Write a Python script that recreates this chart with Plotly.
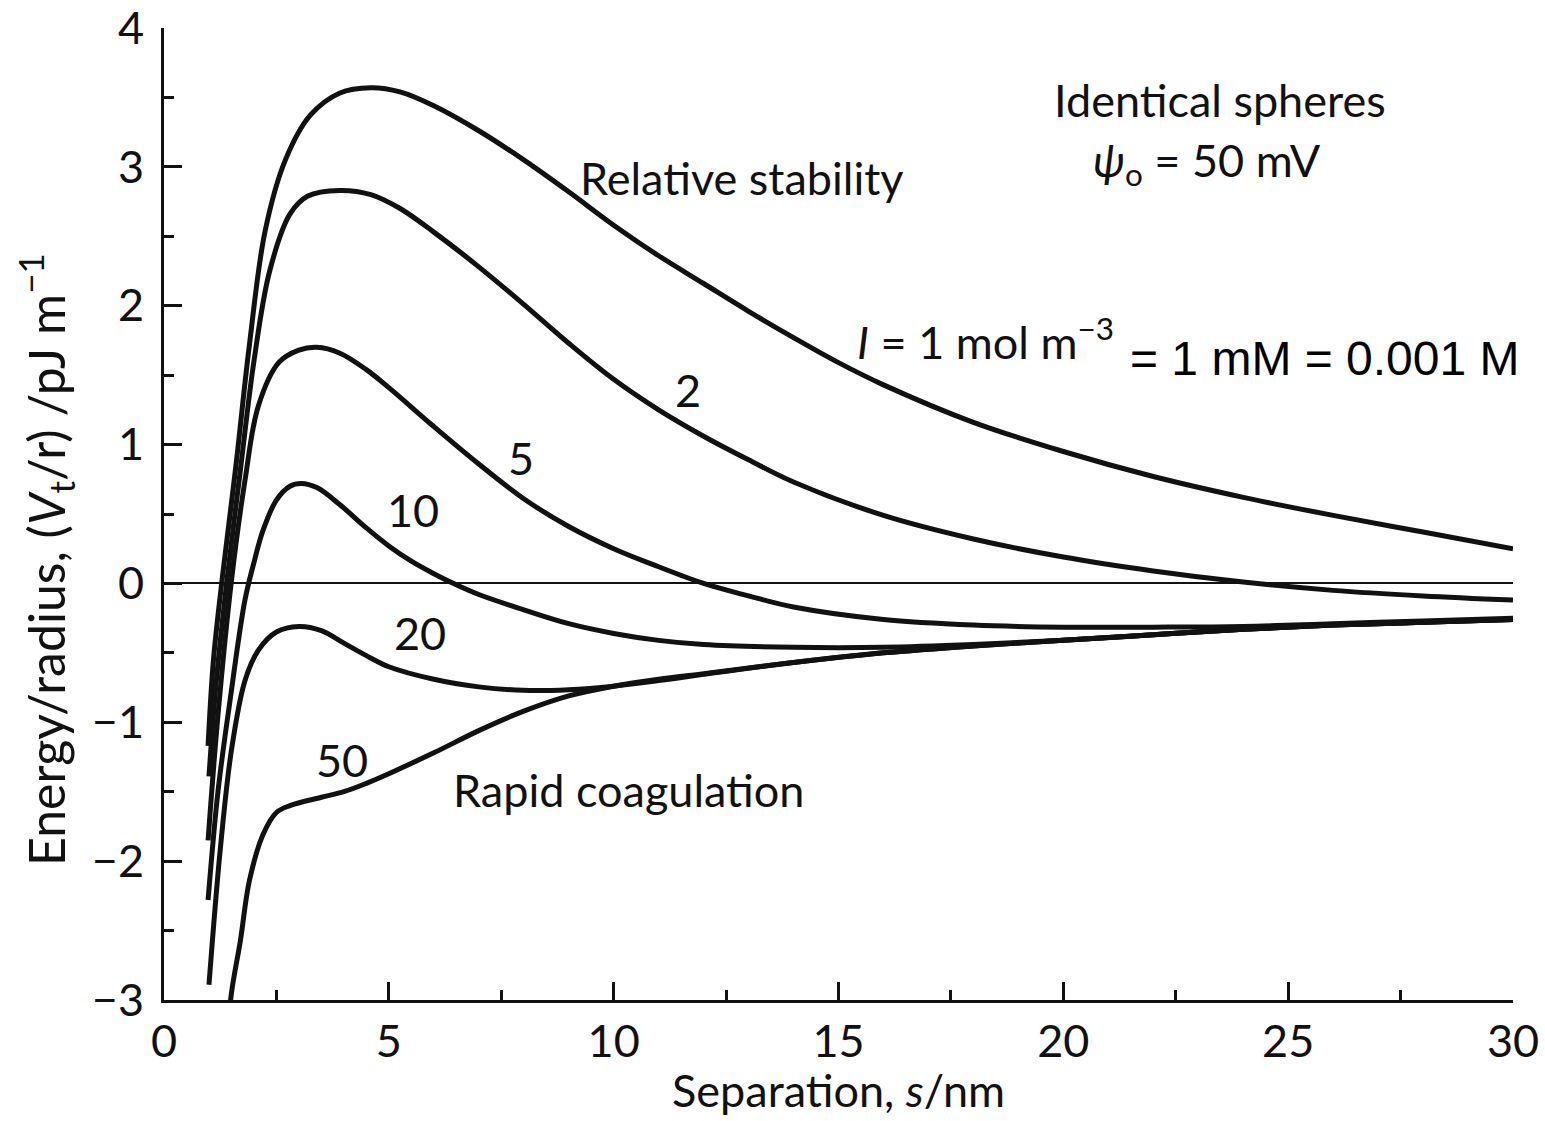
import plotly.graph_objects as go

# DLVO total interaction energy per radius for identical spheres (psi0 = 50 mV)
# at several ionic strengths I (mol m^-3).

s_I1 = [0.98, 1.1, 1.3, 1.6, 1.9, 2.25, 2.7, 3.25, 3.9, 4.6, 5.25, 6, 7, 8, 9, 10, 11, 12,
        13, 14, 15, 16, 18, 20, 22, 24, 26, 28, 30]
v_I1 = [-1.17, -0.55, 0.05, 0.85, 1.72, 2.54, 3.05, 3.37, 3.53, 3.57, 3.54, 3.44, 3.26, 3.05,
        2.82, 2.58, 2.36, 2.16, 1.96, 1.77, 1.59, 1.43, 1.16, 0.95, 0.77, 0.62, 0.49, 0.37, 0.25]

s_I2 = [1.0, 1.15, 1.4, 1.7, 2.0, 2.35, 2.8, 3.2, 3.9, 4.6, 5.25, 6, 7, 8, 9, 10, 11, 12,
        13, 14, 16, 18, 20, 22, 24, 26, 28, 30]
v_I2 = [-1.39, -0.75, 0.02, 0.82, 1.60, 2.25, 2.66, 2.79, 2.83, 2.80, 2.70, 2.53, 2.28, 2.01,
        1.73, 1.47, 1.25, 1.06, 0.89, 0.73, 0.49, 0.32, 0.19, 0.09, 0.01, -0.05, -0.09, -0.12]

s_I5 = [0.98, 1.2, 1.5, 1.8, 2.1, 2.55, 3.0, 3.4, 3.9, 4.5, 5, 6, 7, 8, 9, 10, 11, 12,
        13, 14, 16, 18, 20, 22, 24, 26, 28, 30]
v_I5 = [-1.85, -0.95, 0.02, 0.74, 1.28, 1.59, 1.68, 1.70, 1.66, 1.54, 1.41, 1.13, 0.86, 0.61,
        0.41, 0.25, 0.12, 0.0, -0.09, -0.17, -0.26, -0.30, -0.315, -0.315, -0.31, -0.29, -0.27, -0.25]

s_I10 = [0.98, 1.2, 1.47, 1.8, 2.0, 2.2, 2.5, 2.8, 3.05, 3.4, 3.9, 4.5, 5, 5.5, 6, 6.5, 7, 8, 9,
         10, 11, 12, 14, 16, 18, 20, 22, 24, 26, 28, 30]
v_I10 = [-2.28, -1.5, -0.84, -0.12, 0.15, 0.38, 0.60, 0.70, 0.72, 0.69, 0.57, 0.40, 0.27, 0.16,
         0.07, -0.01, -0.08, -0.19, -0.29, -0.36, -0.41, -0.44, -0.46, -0.46, -0.44, -0.41,
         -0.37, -0.33, -0.30, -0.28, -0.26]

s_I20 = [1.0, 1.25, 1.5, 1.8, 2.1, 2.5, 3.0, 3.5, 4, 4.5, 5, 6, 7, 8, 9, 10, 11, 12, 14, 16,
         18, 20, 22, 24, 26, 28, 30]
v_I20 = [-2.89, -1.92, -1.20, -0.70, -0.48, -0.35, -0.31, -0.34, -0.43, -0.52, -0.60, -0.69,
         -0.745, -0.77, -0.765, -0.74, -0.70, -0.655, -0.57, -0.50, -0.45, -0.41, -0.37, -0.33,
         -0.30, -0.28, -0.26]

s_I50 = [1.4, 1.5, 1.7, 1.9, 2.2, 2.5, 2.8, 3.5, 4, 4.5, 5, 6, 7, 8, 9, 10, 11, 12, 14, 16,
         18, 20, 22, 24, 26, 28, 30]
v_I50 = [-3.3, -2.95, -2.57, -2.14, -1.81, -1.65, -1.60, -1.54, -1.50, -1.44, -1.37, -1.22,
         -1.06, -0.92, -0.81, -0.74, -0.69, -0.65, -0.57, -0.50, -0.45, -0.41, -0.37, -0.33,
         -0.30, -0.28, -0.26]

curves = [(s_I1, v_I1), (s_I2, v_I2), (s_I5, v_I5), (s_I10, v_I10), (s_I20, v_I20), (s_I50, v_I50)]

# curve labels: (text, separation, energy)
curve_labels = [("2", 11.65, 1.39), ("5", 7.95, 0.9), ("10", 5.54, 0.53),
                ("20", 5.69, -0.36), ("50", 3.95, -1.27)]

FONT = "Lato"
INK = "#111111"
SIZE = 45

fig = go.Figure()
for s, v in curves:
    fig.add_trace(go.Scatter(x=s, y=v, mode="lines",
                             line=dict(color=INK, width=5, shape="spline", smoothing=1.0),
                             showlegend=False, hoverinfo="skip"))

annots = []
for txt, x, y in curve_labels:
    annots.append(dict(text=txt, x=x, y=y))
annots += [
    dict(text="Identical spheres", x=23.48, y=3.48),
    dict(text="<i>ψ</i><sub>o</sub> = 50 mV", x=23.2, y=3.03),
    dict(text="Relative stability", x=12.85, y=2.92),
    dict(text="<i>I</i> = 1 mol m<sup>−3</sup>", x=15.37, y=1.76, xanchor="left"),
    dict(text="Rapid coagulation", x=10.32, y=-1.49),
]
for a in annots:
    a.setdefault("xanchor", "center")
    fig.add_annotation(xref="x", yref="y", showarrow=False, yanchor="middle",
                       font=dict(family=FONT, size=SIZE, color=INK), **a)

fig.add_annotation(xref="x", yref="y", x=21.44, y=1.62, showarrow=False,
                   xanchor="left", yanchor="middle", text="= 1 mM = 0.001 M",
                   font=dict(family="Liberation Sans, Arial", size=48, color="#000000"))

# axis titles placed as annotations
fig.add_annotation(xref="paper", yref="paper", x=-0.088, y=0.453, showarrow=False,
                   xanchor="center", yanchor="middle", textangle=-90,
                   text="Energy/radius, (<i>V</i><sub>t</sub>/r) /pJ m<sup>−1</sup>",
                   font=dict(family=FONT, size=50, color=INK))
fig.add_annotation(xref="paper", yref="paper", x=0.5, y=-0.093, showarrow=False,
                   xanchor="center", yanchor="middle",
                   text="Separation, <i>s</i>/nm",
                   font=dict(family=FONT, size=SIZE, color=INK))

axis_common = dict(showline=True, linewidth=3, linecolor=INK, ticks="inside",
                   tickwidth=2.5, tickcolor=INK, ticklen=18, showgrid=False,
                   automargin=False, ticklabeloverflow="allow",
                   tickfont=dict(family=FONT, size=SIZE, color=INK))

fig.update_xaxes(range=[0, 30], dtick=5, tick0=0, zeroline=False,
                 minor=dict(dtick=2.5, ticks="inside", ticklen=10, tickwidth=2.5, tickcolor=INK),
                 ticklabelstandoff=0, **axis_common)
fig.update_yaxes(range=[-3, 4], dtick=1, tick0=0, zeroline=True, zerolinecolor=INK,
                 zerolinewidth=2,
                 minor=dict(dtick=0.5, ticks="inside", ticklen=10, tickwidth=2.5, tickcolor=INK),
                 ticklabelstandoff=8, **axis_common)

fig.update_layout(width=1545, height=1121, paper_bgcolor="white", plot_bgcolor="white",
                  margin=dict(l=164, r=32, t=28, b=121), showlegend=False)

fig.write_html("out.html")
